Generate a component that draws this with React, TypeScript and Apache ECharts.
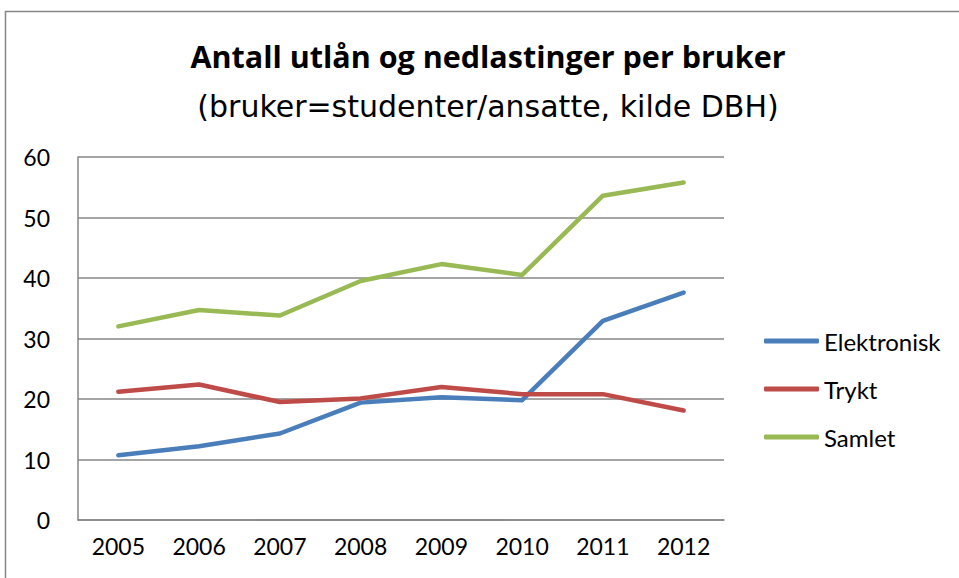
import React, { useEffect, useRef } from "react";
import * as echarts from "echarts";

const years = ["2005", "2006", "2007", "2008", "2009", "2010", "2011", "2012"];
const elektronisk = [10.7, 12.2, 14.3, 19.4, 20.3, 19.8, 32.9, 37.6];
const trykt = [21.2, 22.4, 19.5, 20.1, 22.0, 20.8, 20.8, 18.1];
const samlet = [32.0, 34.7, 33.8, 39.5, 42.3, 40.5, 53.6, 55.8];
const seriesNames = ["Elektronisk", "Trykt", "Samlet"];
const colors = ["#4A7EBB", "#BE4B48", "#98B954"];
const titleText = "Antall utlån og nedlastinger per bruker";
const subtitleText = "(bruker=studenter/ansatte, kilde DBH)";

const FONT = "Lato, 'Noto Sans', sans-serif";

export default function App() {
  const ref = useRef<HTMLDivElement>(null);
  useEffect(() => {
    if (!ref.current) return;
    const chart = echarts.init(ref.current, undefined, { renderer: "svg" });
    const data = [elektronisk, trykt, samlet];
    chart.setOption({
      animation: false,
      backgroundColor: "#ffffff",
      graphic: [
        {
          type: "rect",
          shape: { x: 5.5, y: 11.5, width: 1200, height: 1200 },
          style: { fill: "none", stroke: "#868686", lineWidth: 1.5 },
          silent: true,
        },
        {
          type: "text",
          x: 488,
          y: 56,
          style: {
            text: titleText,
            fontFamily: "'Open Sans', sans-serif",
            fontSize: 30.5,
            fontWeight: "bold",
            fill: "#000",
            align: "center",
            verticalAlign: "middle",
          },
        },
        {
          type: "text",
          x: 488,
          y: 106,
          style: {
            text: subtitleText,
            fontFamily: "'DejaVu Sans', sans-serif",
            fontSize: 30,
            fontWeight: "normal",
            fill: "#000",
            align: "center",
            verticalAlign: "middle",
          },
        },
      ],
      legend: {
        orient: "vertical",
        left: 764,
        top: 329,
        padding: 0,
        itemWidth: 55,
        itemHeight: 5,
        itemGap: 24,
        icon: "roundRect",
        data: seriesNames,
        textStyle: { fontFamily: FONT, fontSize: 24, color: "#000" },
      },
      grid: { left: 78, top: 157, right: 235, bottom: 58, containLabel: false },
      xAxis: {
        type: "category",
        data: years,
        boundaryGap: true,
        axisLine: { lineStyle: { color: "#868686", width: 1.5 } },
        axisTick: { show: false },
        axisLabel: { fontFamily: FONT, fontSize: 23, color: "#000", margin: 14 },
      },
      yAxis: {
        type: "value",
        min: 0,
        max: 60,
        interval: 10,
        axisLine: { show: true, lineStyle: { color: "#868686", width: 1.5 } },
        axisTick: { show: false },
        splitLine: { lineStyle: { color: "#868686", width: 1.5 } },
        axisLabel: { fontFamily: FONT, fontSize: 23, color: "#000", margin: 28 },
      },
      series: seriesNames.map((name, i) => ({
        name,
        type: "line",
        data: data[i],
        symbol: "none",
        color: colors[i],
        lineStyle: { width: 4.5, color: colors[i], cap: "round", join: "round" },
      })),
    });
    return () => chart.dispose();
  }, []);
  return (
    <div
      ref={ref}
      style={{ position: "fixed", left: 0, top: 0, width: 959, height: 578 }}
    />
  );
}
